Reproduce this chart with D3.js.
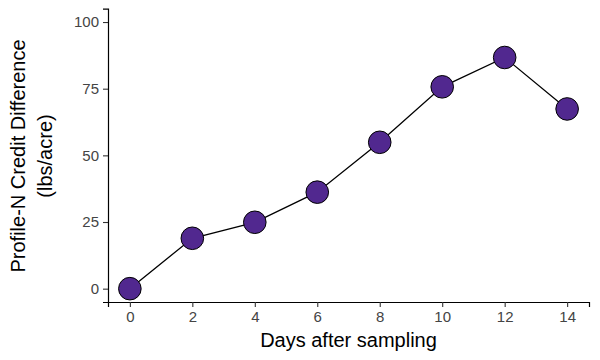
<!DOCTYPE html>
<html><head><meta charset="utf-8">
<script src="https://cdn.jsdelivr.net/npm/d3@7"></script>
<style>body{margin:0;background:#fff;} text{font-family:"Liberation Sans",Arial,sans-serif;} .tick text{font-size:15px;}</style>
</head><body>
<svg id="c" width="600" height="360"></svg>
<script>
const days = [0, 2, 4, 6, 8, 10, 12, 14];
const creditDiff = [0, 18.9, 24.9, 36.2, 54.9, 75.7, 86.7, 67.4];
const xTicks = [0, 2, 4, 6, 8, 10, 12, 14];
const yTicks = [0, 25, 50, 75, 100];

(function () {
const svg = d3.select("#c");
const mLeft = 108, mRight = 589, mTop = 8.7, mBottom = 302;
const x = d3.scaleLinear().domain([-0.7, 14.7]).range([mLeft, mRight]);
const y = d3.scaleLinear().domain([-5, 105]).range([mBottom, mTop]);

const xAxis = svg.append("g").attr("transform", `translate(0,${mBottom})`)
  .call(d3.axisBottom(x).tickValues(xTicks).tickSizeOuter(0).tickSize(5).tickPadding(4));
const yAxis = svg.append("g").attr("transform", `translate(${mLeft},0)`)
  .call(d3.axisLeft(y).tickValues(yTicks).tickSizeOuter(0).tickSize(5).tickPadding(4));
[xAxis, yAxis].forEach(a => {
  a.attr("font-size", 15).attr("font-family", null);
  a.select(".domain").attr("stroke", "#000").attr("stroke-width", 1.2);
  a.selectAll(".tick line").attr("stroke", "#333").attr("stroke-width", 1.1);
  a.selectAll(".tick text").attr("fill", "#444").attr("font-size", 15).style("font-size", "15px");
});

const pts = days.map((d, i) => ({d, v: creditDiff[i]}));
svg.append("path").datum(pts)
  .attr("fill", "none").attr("stroke", "#000").attr("stroke-width", 1.3)
  .attr("d", d3.line().x(p => x(p.d)).y(p => y(p.v)));
svg.selectAll("circle.pt").data(pts).enter().append("circle")
  .attr("class", "pt").attr("cx", p => x(p.d)).attr("cy", p => y(p.v))
  .attr("r", 11.3).attr("fill", "#51288f").attr("stroke", "#000").attr("stroke-width", 1);

svg.append("text").attr("x", (mLeft + mRight) / 2).attr("y", 347)
  .attr("text-anchor", "middle").style("font-size", "20px").attr("fill", "#000")
  .text("Days after sampling");
const yt = svg.append("text").attr("transform", `translate(0,156) rotate(-90)`)
  .attr("text-anchor", "middle").style("font-size", "20px").attr("fill", "#000");
yt.append("tspan").attr("x", 0).attr("y", 25).text("Profile-N Credit Difference");
yt.append("tspan").attr("x", 0).attr("y", 52).text("(lbs/acre)");
})();
</script>
</body></html>
